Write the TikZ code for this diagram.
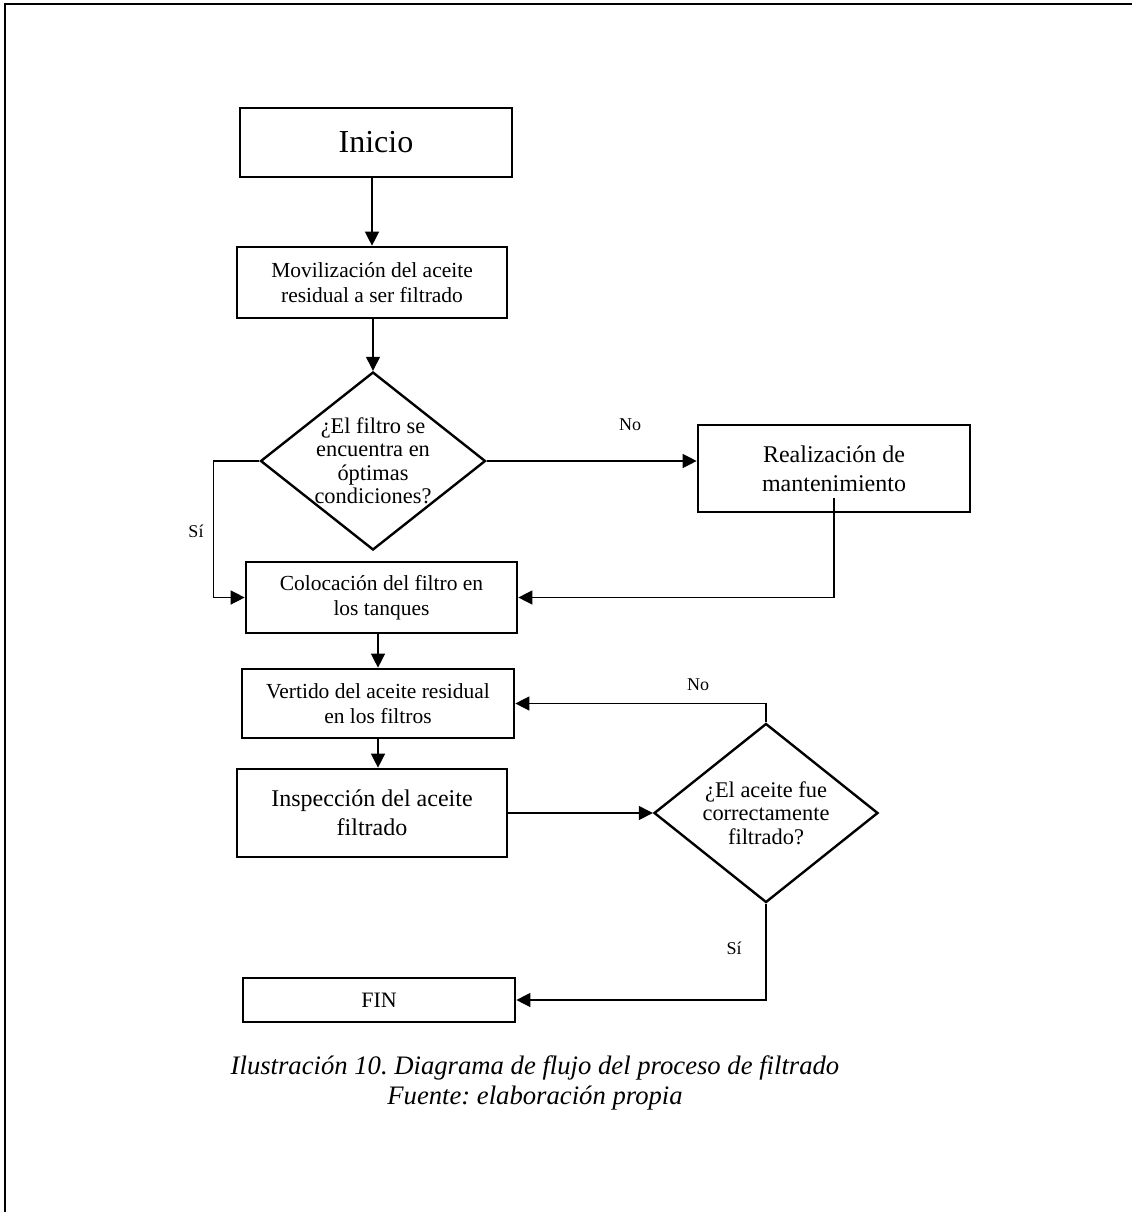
\documentclass[tikz,border=0pt]{standalone}
\usepackage{fontspec}
\setmainfont{Liberation Serif}
\frenchspacing
\usetikzlibrary{shapes.geometric,arrows.meta,calc}

\begin{document}
\begin{tikzpicture}[x=0.75pt,y=-0.75pt,
  box/.style 2 args={draw, line width=2pt, rectangle, inner sep=0pt, align=center,
    minimum width=#1*0.75pt, minimum height=#2*0.75pt},
  dia/.style 2 args={draw, line width=1.8pt, diamond, inner sep=0pt,
    minimum width=#1*0.75pt, minimum height=#2*0.75pt},
  dtext/.style={align=center, inner sep=0pt, font=\fontsize{16.8}{17.6}\selectfont},
  boxtxt/.style={font=\fontsize{16.1}{19}\selectfont},
  bigtxt/.style={font=\fontsize{18}{21.7}\selectfont},
  conn/.style={line width=1pt, -{Triangle[length=10.5pt,width=10.5pt]}},
  lbl/.style={inner sep=0pt, font=\fontsize{13.5}{15}\selectfont},
  captxt/.style={inner sep=0pt, font=\itshape\fontsize{20}{24}\selectfont}
]
% page area and frame (left and top rules)
\useasboundingbox (0,0) rectangle (1132,1212);
\draw[line width=2.2pt] (5,1212) -- (5,4) -- (1132,4);

% process steps
\node[box={272}{69}, font=\fontsize{24}{28}\selectfont] (ini) at (376,142.5) {Inicio};
\node[box={270}{71}, boxtxt] (mov) at (372,282.5) {Movilización del aceite\\residual a ser filtrado};
\node[dia={225}{178}] (d1) at (373,461) {};
\node[dtext] (d1t) at (d1) {¿El filtro se\\encuentra en\\óptimas\\condiciones?};
\node[box={272}{87}, bigtxt] (real) at (834,468.5) {Realización de\\mantenimiento};
\node[box={271}{71}, boxtxt] (col) at (381.5,597.5) {Colocación del filtro en\\los tanques};
\node[box={272}{69}, boxtxt] (vert) at (378,703.5) {Vertido del aceite residual\\en los filtros};
\node[box={270}{88}, bigtxt] (insp) at (372,813) {Inspección del aceite\\filtrado};
\node[dia={224}{179}] (d2) at (766,813) {};
\node[dtext] (d2t) at (d2) {¿El aceite fue\\correctamente\\filtrado?};
\node[box={272}{44}, font=\fontsize{16.5}{19}\selectfont] (fin) at (379,1000) {FIN};

% flow
\draw[conn] (mov.north |- ini.south) -- (mov.north);
\draw[conn] (d1.north |- mov.south) -- (d1.north);
\draw[conn] (d1.west) -- ++(-46,0) |- (col.west);
\draw[conn] (d1.east) -- (d1.east -| real.west);
\draw[conn] ($(real.south)+(0,-15)$) |- (col.east);
\draw[conn] (col.south -| vert.north) -- (vert.north);
\draw[conn] (vert.south) -- (vert.south |- insp.north);
\draw[conn] (insp.east) -- (d2.west);
\draw[conn] (d2.north) |- (vert.east);
\draw[conn] (d2.south) |- (fin.east);

% branch labels
\node[lbl] (no1) at (630,425) {No};
\node[lbl] (si1) at (196,531) {Sí};
\node[lbl] (no2) at (698,685) {No};
\node[lbl] (si2) at (734,948) {Sí};

% caption
\node[captxt] (cap1) at (535,1068) {Ilustración 10. Diagrama de flujo del proceso de filtrado};
\node[captxt] (cap2) at (535,1098) {Fuente: elaboración propia};
\end{tikzpicture}
\end{document}
